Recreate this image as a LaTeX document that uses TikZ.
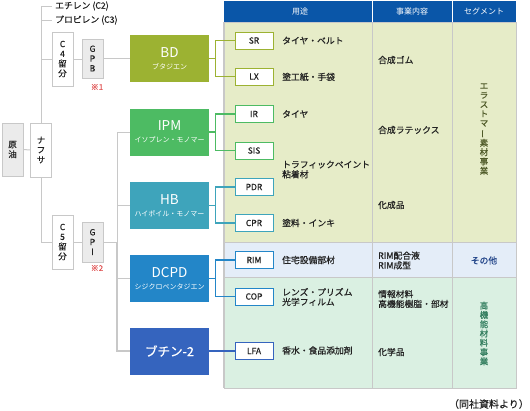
\documentclass[tikz,border=0pt]{standalone}
\usepackage{fontspec}
\setmainfont{Noto Sans CJK JP}[RawFeature={embolden=0.6}]
\newfontfamily\plainjp{Noto Sans CJK JP}
\usepackage{graphicx}
\definecolor{bdc}{HTML}{9CB232}
\definecolor{ipmc}{HTML}{4DBB63}
\definecolor{hbc}{HTML}{3EA4BB}
\definecolor{dcpdc}{HTML}{2386C8}
\definecolor{btc}{HTML}{3564BE}
\definecolor{hdr}{HTML}{0A56A8}
\definecolor{rowa}{HTML}{E6ECC8}
\definecolor{rowb}{HTML}{E4EDF8}
\definecolor{rowc}{HTML}{DAF0E2}
\definecolor{lineg}{HTML}{C8C8C8}
\definecolor{boxg}{HTML}{EBEBEB}
\definecolor{textc}{HTML}{222222}
\definecolor{redc}{HTML}{E05555}
\definecolor{segA}{HTML}{4F5A28}
\definecolor{segB}{HTML}{24478A}
\definecolor{segC}{HTML}{357F60}
\begin{document}
\begin{tikzpicture}[x=1pt,y=-1pt,
  conn/.style={draw=lineg,line width=1pt},
  lbox/.style={draw=lineg,fill=white,line width=0.8pt,minimum width=21pt,inner sep=0pt,align=center,text=textc,font=\fontsize{8.5}{9.8}\selectfont},
  gbox/.style={lbox,fill=boxg},
  bigbox/.style={minimum width=79pt,minimum height=47pt,inner sep=0pt,text=white,align=center,font=\plainjp\fontsize{7}{12}\selectfont},
  sbox/.style={draw=#1,fill=white,line width=1pt,minimum width=38pt,minimum height=17pt,inner sep=0pt,text=textc,font=\fontsize{8.5}{9}\selectfont},
  fork/.style={draw=#1,line width=1.1pt},
  txt/.style={anchor=west,inner sep=0pt,align=left,text=textc,font=\fontsize{8.8}{9.8}\selectfont},
  vtxt/.style={inner sep=0pt,align=center,font=\fontsize{8.5}{9.3}\selectfont},
  hdrtxt/.style={text=white,inner sep=0pt,font=\plainjp\fontsize{8}{9}\selectfont},
  note/.style={text=redc,inner sep=0pt,font=\fontsize{8}{9}\selectfont}
]
\useasboundingbox (0,0) rectangle (530,410);

% table
\fill[hdr] (224,1) rectangle (516,22);
\fill[rowa] (224,22) rectangle (516,242);
\fill[rowb] (224,242) rectangle (516,277);
\fill[rowc] (224,277) rectangle (516,388);
\draw[white,line width=0.8pt] (372,1) -- (372,22) (452,1) -- (452,22);
\draw[lineg,line width=0.8pt] (224,22) rectangle (516,388);
\draw[lineg,line width=0.8pt] (372,22) -- (372,388) (452,22) -- (452,388)
  (224,242) -- (516,242) (224,277) -- (516,277);
\draw[lineg,line width=1.6pt] (224,22) -- (224,388);
\node[hdrtxt] (h1) at (300,11.5) {用途};
\node[hdrtxt] (h2) at (412,11.5) {事業内容};
\node[hdrtxt] (h3) at (484,11.5) {セグメント};

% left boxes
\node[gbox,minimum height=53pt] (crude) at (12.5,149.5) {原\\油};
\node[lbox,minimum height=54pt] (naph) at (41,150) {ナ\\フ\\サ};
\node[txt,inner xsep=3pt] (eth) at (52,6) {エチレン (C2)};
\node[txt,inner xsep=3pt] (pro) at (52,20) {プロピレン (C3)};
\node[lbox,minimum height=54pt] (c4) at (62.5,59) {C\\4\\留\\分};
\node[gbox,minimum height=39pt] (gpb) at (92.5,58.5) {G\\P\\B};
\node[note] (n1) at (97,87) {※1};
\node[lbox,minimum height=54pt] (c5) at (62.5,242) {C\\5\\留\\分};
\node[gbox,minimum height=40pt] (gpi) at (92.5,242) {G\\P\\I};
\node[note] (n2) at (97,268) {※2};

% big boxes
\node[bigbox,fill=bdc] (bd) at (169.5,58.5) {{\fontsize{13.5}{14}\selectfont BD}\\ブタジエン};
\node[bigbox,fill=ipmc] (ipm) at (169.5,132) {{\fontsize{13.5}{14}\selectfont IPM}\\イソプレン・モノマー};
\node[bigbox,fill=hbc] (hb) at (169.5,205.5) {{\fontsize{13.5}{14}\selectfont HB}\\ハイポイル・モノマー};
\node[bigbox,fill=dcpdc] (dcpd) at (169.5,278.5) {{\fontsize{13.5}{14}\selectfont DCPD}\\シジクロペンタジエン};
\node[bigbox,fill=btc,font=\fontsize{12.5}{14}\selectfont] (bt) at (169.5,351) {ブチン-2};

% small boxes
\node[sbox=bdc] (sr) at (254,40.5) {SR};
\node[sbox=bdc] (lx) at (254,76.5) {LX};
\node[sbox=ipmc] (ir) at (254,114) {IR};
\node[sbox=ipmc] (sis) at (254,150.5) {SIS};
\node[sbox=hbc] (pdr) at (254,187) {PDR};
\node[sbox=hbc] (cpr) at (254,223) {CPR};
\node[sbox=dcpdc] (rim) at (254,260) {RIM};
\node[sbox=dcpdc] (cop) at (254,296.5) {COP};
\node[sbox=btc] (lfa) at (254,351) {LFA};

% left connectors
\draw[conn] (crude.east) -- (naph.west);
\draw[conn] (naph.north) |- (eth.west);
\draw[conn] (naph.north) |- (pro.west);
\draw[conn] (naph.north) |- (c4.west);
\draw[conn] (naph.south) |- (c5.west);
\draw[conn] (c4.east) -- (c4.east -| gpb.west);
\draw[conn] (gpb.east) -- (bd.west);
\draw[conn] (c5.east) -- (gpi.west);
\coordinate (tr) at (117,242);
\draw[conn] (gpi.east) -- (tr);
\draw[conn] (tr) |- (ipm.west);
\draw[conn] (tr) |- (hb.west);
\draw[conn] (tr) |- (dcpd.west);
\draw[conn,line width=1.5pt] (tr) |- (bt.west);

% forks
\draw[fork=bdc] (bd.east) -- ++(6,0) |- (sr.west);
\draw[fork=bdc] (bd.east) -- ++(6,0) |- (lx.west);
\draw[fork=ipmc] (ipm.east) -- ++(6,0) |- (ir.west);
\draw[fork=ipmc] (ipm.east) -- ++(6,0) |- (sis.west);
\draw[fork=hbc] (hb.east) -- ++(6,0) |- (pdr.west);
\draw[fork=hbc] (hb.east) -- ++(6,0) |- (cpr.west);
\draw[fork=dcpdc] (dcpd.east) -- ++(6,0) |- (rim.west);
\draw[fork=dcpdc] (dcpd.east) -- ++(6,0) |- (cop.west);
\draw[fork=btc] (bt.east) -- (lfa.west);

% table text
\node[txt] (u1) at (282,40.5) {タイヤ・ベルト};
\node[txt] (u2) at (282,77) {塗工紙・手袋};
\node[txt] (u3) at (282,114) {タイヤ};
\node[txt] (u4) at (282,169.5) {トラフィックペイント\\粘着材};
\node[txt] (u5) at (282,223) {塗料・インキ};
\node[txt] (u6) at (282,260) {住宅設備部材};
\node[txt] (u7) at (282,297) {レンズ・プリズム\\光学フィルム};
\node[txt] (u8) at (282,350.5) {香水・食品添加剤};

\node[txt] (j1) at (378,60) {合成ゴム};
\node[txt] (j2) at (378,130) {合成ラテックス};
\node[txt] (j3) at (378,205) {化成品};
\node[txt] (j4) at (378,260.5) {RIM配合液\\RIM成型};
\node[txt] (j5) at (378,299) {情報材料\\高機能樹脂・部材};
\node[txt] (j6) at (378,352) {化学品};

\node[vtxt,text=segA] (s1) at (484,129) {エ\\ラ\\ス\\ト\\マ\\\rotatebox[origin=c]{90}{ー}\\素\\材\\事\\業};
\node[text=segB,inner sep=0pt,font=\fontsize{8.8}{10}\selectfont] (s2) at (484,260.5) {その他};
\node[vtxt,text=segC] (s3) at (484,333.5) {高\\機\\能\\材\\料\\事\\業};

\node[anchor=east,inner sep=0pt,text=textc,font=\fontsize{10}{12}\selectfont] (src) at (529,404) {（同社資料より）};
\end{tikzpicture}
\end{document}
